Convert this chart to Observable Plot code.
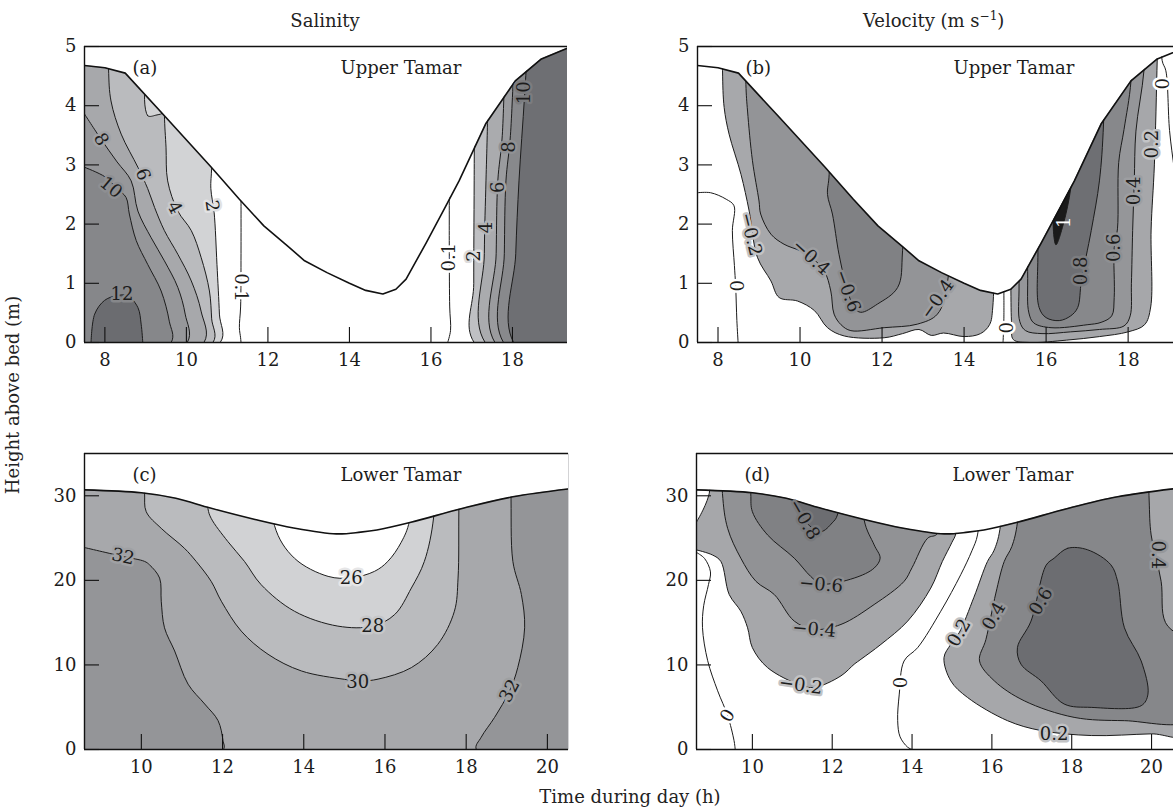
<!DOCTYPE html>
<html><head><meta charset="utf-8">
<script src="https://cdn.jsdelivr.net/npm/d3@7"></script>
<script src="https://cdn.jsdelivr.net/npm/@observablehq/plot@0.6"></script>
<style>
body{margin:0;background:#fff;}
#page{position:relative;width:1173px;height:809px;overflow:hidden;font-family:"DejaVu Serif","Liberation Serif",serif;color:#222;background:#fff;}
.panel{position:absolute;width:600px;}
.t{position:absolute;font-size:18px;line-height:1;white-space:nowrap;}
sup{font-size:12px;line-height:0;}
</style></head><body><div id="page">
<div class="t" style="left:325px;top:12px;transform:translateX(-50%)">Salinity</div>
<div class="t" style="left:863px;top:12px">Velocity (m s<sup>−1</sup>)</div>
<div class="t" style="left:13px;top:395px;transform:translate(-50%,-50%) rotate(-90deg)">Height above bed (m)</div>
<div class="t" style="left:630px;top:788px;transform:translateX(-50%)">Time during day (h)</div>
</div>
<script>
// ---------- axes ----------
const hoursUpper = [7.5, 19.35];
const hoursLowerC = [8.6, 20.52];
const hoursLowerD = [8.6, 20.6];
const depthUpper = [0, 5];
const depthLower = [0, 35];
const ticksUpperX = [8, 10, 12, 14, 16, 18];
const ticksUpperY = [0, 1, 2, 3, 4, 5];
const ticksLowerX = [10, 12, 14, 16, 18, 20];
const ticksLowerY = [0, 10, 20, 30];

// ---------- water surface (time h, height m) ----------
const upperSurface = [[7.5,4.68],[8.0,4.64],[8.5,4.55],[9.5,3.8],[10.6,2.97],[11.3,2.42],[11.9,1.97],[12.5,1.62],[12.9,1.38],[13.45,1.18],[14.0,1.0],[14.4,0.88],[14.82,0.82],[15.14,0.9],[15.39,1.07],[15.88,1.68],[16.36,2.3],[16.69,2.73],[17.34,3.69],[18.07,4.42],[18.71,4.79],[19.35,4.97]];
const lowerSurface = [[8.6,30.7],[10.0,30.35],[10.85,29.7],[11.7,28.55],[12.8,27.2],[13.75,26.2],[14.8,25.5],[15.4,25.7],[15.8,25.95],[16.64,26.86],[17.9,28.5],[19.15,29.88],[20.6,30.85]];

// ---------- (a) salinity, Upper Tamar ----------
const salA_2L = [[10.62,6],[10.62,2.98],[10.6,2.6],[10.68,2.2],[10.75,1.32],[10.81,0.48],[10.83,0]];
const salA_4L = [[9.46,6],[9.46,3.86],[9.5,3.3],[9.54,2.73],[9.79,2.22],[10.12,1.89],[10.36,1.44],[10.565,0.87],[10.62,0.4],[10.65,0]];
const salA_notch = [[9.05,4.4],[9.05,3.83],[9.25,3.84],[9.46,3.9],[9.5,4.4]];
const salA_6L = [[8.09,6],[8.09,4.62],[8.15,4.08],[8.4,3.52],[8.81,2.96],[9.05,2.6],[9.22,2.28],[9.46,1.89],[9.79,1.49],[10.12,1.04],[10.36,0.53],[10.43,0]];
const salA_8L = [[7.5,3.86],[7.91,3.43],[8.3,3.05],[8.645,2.73],[8.81,2.22],[9.135,1.77],[9.46,1.38],[9.79,0.93],[9.97,0.48],[10.02,0]];
const salA_10L = [[7.5,2.96],[8.0,2.8],[8.3,2.6],[8.52,2.45],[8.6,2.17],[8.77,1.72],[9.05,1.32],[9.38,0.87],[9.58,0.36],[9.625,0]];
const salA_12 = [[7.66,0],[7.75,0.48],[7.99,0.71],[8.28,0.79],[8.56,0.79],[8.81,0.59],[8.89,0.31],[8.93,0]];
const salA_2R = [[17.08,6],[17.06,2.73],[17.05,1.0],[17.06,0]];
const salA_4R = [[17.45,6],[17.38,3.5],[17.35,2.73],[17.31,1.5],[17.33,0]];
const salA_6R = [[17.85,6],[17.75,3.5],[17.64,2.73],[17.6,1.5],[17.57,0]];
const salA_8R = [[18.1,6],[17.95,3.5],[17.84,2.73],[17.8,1.5],[17.78,0]];
const salA_10R = [[18.45,6],[18.3,4.2],[18.16,2.73],[18.08,1.5],[18.03,0]];
const salA_01L = [[11.34,2.45],[11.34,1.5],[11.33,0.6],[11.3,0.25],[11.33,0.08],[11.34,0]];
const salA_01R = [[16.45,2.55],[16.45,1.5],[16.46,0.6],[16.48,0.2],[16.41,0]];
const labelsA = [["8",7.91,3.43,60],["10",8.15,2.62,40],["6",8.93,2.84,70],["4",9.71,2.28,62],["2",10.63,2.31,82],["12",8.42,0.82,0],["0.1",11.34,0.93,90],
  ["0.1",16.45,1.44,-90],["2",17.05,1.46,-90],["4",17.36,1.94,-90],["6",17.66,2.62,-90],["8",17.93,3.3,-90],["10",18.3,4.22,-90]];
const haloA = ["#a0a1a4","#8e8f92","#b1b2b5","#c7c8ca","#e2e2e3","#86878a","#ffffff","#ffffff","#dcdcdd","#b3b4b7","#a0a1a4","#909194","#7b7c7f"];

// ---------- (b) velocity, Upper Tamar ----------
const velB_m02 = [[8.11,6],[8.11,4.59],[8.15,3.97],[8.27,3.52],[8.56,2.84],[8.76,2.22],[8.96,1.44],[9.29,1.04],[9.49,0.76],[9.94,0.7],[10.35,0.54],[10.67,0.25],[11.08,0.11],[12.05,0.08],[12.5,0.15],[12.9,0.22],[13.2,0.12],[13.5,0.16],[14.0,0.1],[14.4,0.15],[14.62,0.3],[14.7,0.6],[14.75,6]];
const velB_m04 = [[8.68,6],[8.68,4.36],[8.72,3.91],[8.84,3.07],[9.0,2.39],[9.04,2.17],[9.29,1.83],[9.61,1.66],[10.0,1.55],[10.27,1.44],[10.59,1.21],[10.75,0.87],[10.83,0.48],[11.0,0.3],[11.24,0.2],[12.05,0.25],[12.86,0.31],[13.35,0.48],[13.6,1.04],[13.7,6]];
const velB_m06 = [[10.72,6],[10.71,2.84],[10.67,2.5],[10.79,2.17],[10.95,1.49],[11.16,0.87],[11.32,0.59],[11.48,0.51],[11.89,0.65],[12.38,0.93],[12.5,1.55],[12.52,6]];
const velB_p02 = [[15.14,6],[15.14,1.0],[15.16,0.3],[15.2,0.05],[15.6,0.0],[16.5,0.04],[17.3,0.1],[18.0,0.18],[18.4,0.3],[18.55,0.6],[18.56,1.9],[18.64,3.0],[18.71,4.8],[18.75,6]];
const velB_p04 = [[15.34,6],[15.34,1.0],[15.36,0.35],[15.5,0.2],[15.9,0.15],[16.6,0.18],[17.3,0.22],[17.9,0.28],[18.05,0.45],[18.08,1.0],[18.11,1.89],[18.15,2.73],[18.19,3.57],[18.39,4.62],[18.45,6]];
const velB_p06 = [[15.55,6],[15.55,1.2],[15.58,0.5],[15.7,0.33],[16.12,0.25],[17.0,0.3],[17.34,0.34],[17.6,0.45],[17.66,0.76],[17.66,1.6],[17.74,1.92],[17.77,3.04],[17.9,3.6],[18.07,4.42],[18.12,6]];
const velB_p08 = [[15.8,6],[15.8,1.6],[15.83,0.59],[16.0,0.42],[16.32,0.37],[16.6,0.45],[16.77,0.59],[16.86,1.04],[17.1,1.89],[17.3,2.73],[17.4,3.69],[17.45,6]];
const velB_p10 = [[16.24,1.65],[16.2,2.4],[16.65,3.1],[16.6,2.6],[16.42,2.0]];
const velB_0L = [[7.5,2.53],[7.82,2.53],[8.2,2.42],[8.39,2.31],[8.35,1.89],[8.4,1.3],[8.43,0.96],[8.46,0.37],[8.49,0]];
const velB_0M = [[14.97,0.9],[14.97,0.4],[14.95,0]];
const velB_0R = [[18.8,6],[18.83,4.76],[18.92,4.59],[19.01,3.58],[19.13,2.9],[19.3,2.0]];
const labelsB = [["−0.2",8.8,1.83,76],["−0.4",10.27,1.44,42],["−0.6",11.16,0.87,70],["−0.4",13.35,0.73,-55],["0",8.43,0.96,90],["0",14.98,0.25,90],
  ["0.8",16.85,1.21,-90],["0.6",17.66,1.6,-90],["0.4",18.14,2.56,-90],["0.2",18.58,3.35,-90],["0",18.86,4.37,-90]];
const haloB = ["#c2c3c5","#9d9ea1","#8a8b8e","#9d9ea1","#ffffff","#ffffff","#7c7d80","#8e8f92","#9d9ea1","#c2c3c5","#ffffff"];
const labelsB1 = [["1",16.44,2.03,-90]];

// ---------- (c) salinity, Lower Tamar ----------
const salC_32L = [[8.6,23.88],[9.55,22.82],[10.08,22.24],[10.2,21.84],[10.45,20.27],[10.49,17.53],[10.57,14.39],[10.82,11.65],[11.15,7.73],[11.56,5.38],[11.89,3.41],[12.01,1.06],[12.02,0]];
const salC_32R = [[19.05,36],[19.1,30.5],[19.15,22.24],[19.36,18.32],[19.44,14.39],[19.27,9.68],[19.07,6.94],[18.7,3.8],[18.37,1.45],[18.25,0]];
const salC_30 = [[10.05,36],[10.08,30.39],[10.12,28.12],[10.49,26.15],[11.06,23.8],[11.35,22.24],[11.72,19.88],[11.97,17.53],[12.46,14.0],[13.12,11.26],[13.94,9.29],[15.0,8.3],[15.4,8.1],[15.83,8.32],[16.65,9.68],[17.3,12.43],[17.71,16.35],[17.8,20.27],[17.82,28.4],[17.85,36]];
const salC_28 = [[11.6,36],[11.64,28.5],[11.72,27.33],[12.13,24.59],[12.54,22.24],[12.95,19.49],[13.77,16.35],[14.84,14.59],[15.7,14.59],[16.24,15.96],[16.65,19.09],[16.97,22.24],[17.2,27.5],[17.25,36]];
const salC_26 = [[13.25,36],[13.28,26.47],[13.77,22.62],[14.6,20.47],[15.17,20.3],[15.74,21.06],[16.07,22.24],[16.4,24.5],[16.6,27],[16.65,36]];
const labelsC = [["32",9.55,22.82,12],["26",15.17,20.3,0],["28",15.7,14.59,0],["30",15.33,8.0,0],["32",19.07,6.94,-62]];
const haloC = ["#a0a1a4","#e6e6e7","#c6c7c9","#b0b1b4","#9ea0a2"];

// ---------- (d) velocity, Lower Tamar ----------
const velD_m02 = [[8.6,26.9],[8.92,30.3],[8.95,40],[15.15,40],[15.1,25.6],[15.0,24.5],[14.76,22.24],[14.47,19.09],[13.89,15.18],[13.22,12.43],[12.72,10.67],[12.55,10.08],[12.22,8.71],[11.55,7.33],[11.21,7.6],[10.38,9.68],[10.0,12.04],[9.88,14.39],[9.71,16.35],[9.42,18.32],[9.21,22.24],[9.0,23.0],[8.6,23.6]];
const velD_m04 = [[9.22,40],[9.25,30.27],[9.38,26.15],[9.71,22.62],[10.09,19.88],[10.55,18.32],[11.05,15.18],[11.55,14.2],[12.22,14.79],[13.05,17.14],[13.8,19.88],[14.0,21.5],[14.39,24.98],[14.64,25.56],[14.7,40]];
const velD_m06 = [[9.93,40],[9.96,30.27],[10.0,28.12],[10.38,25.37],[11.05,22.62],[11.46,20.47],[11.72,19.6],[12.55,20.27],[13.05,21.45],[13.2,22.62],[13.05,24.2],[12.8,27.14],[12.78,40]];
const velD_m08 = [[10.95,40],[10.97,30],[11.1,28.6],[11.4,26.6],[11.72,25.76],[12.0,26.8],[12.13,27.73],[12.2,40]];
const velD_p02 = [[16.3,40],[16.2,26],[16.05,23.5],[15.89,22.24],[15.55,18],[15.18,13.8],[14.97,12.43],[14.8,10.86],[14.97,8.12],[15.39,6.15],[16.39,3.41],[17.23,2.24],[18.49,1.65],[19.99,1.85],[21,1.9]];
const velD_p04 = [[16.75,40],[16.64,26.86],[16.5,24],[16.31,22.24],[16.1,18.5],[15.85,13],[15.69,10.47],[16.06,8.12],[16.81,5.76],[18.06,3.8],[19.32,3.41],[21,3.6],[21,12],[20.35,15],[20.24,19.88],[19.99,25.37],[19.94,29.5],[19.9,40]];
const velD_p06 = [[17.56,22.62],[17.9,23.8],[18.4,23.61],[18.98,21.84],[19.15,19.88],[19.32,14.39],[19.74,10.47],[19.91,6.55],[19.74,5.18],[18.49,4.98],[17.81,5.38],[17.23,8.12],[16.73,10.08],[16.64,12.04],[16.98,15.18],[17.36,21.8]];
const velD_0L = [[8.6,23.3],[8.8,22.6],[8.95,21.0],[8.9,19.5],[8.78,17],[8.75,14.4],[8.88,10.5],[9.13,6.94],[9.38,4.0],[9.54,1.06],[9.57,0]];
const velD_0M = [[15.7,32],[15.64,25.37],[15.5,23.5],[15.22,20.67],[14.72,16.35],[14.14,12.04],[13.8,10.47],[13.68,6.55],[13.64,3.41],[13.7,1.5],[13.89,0.27],[14.0,0]];
const labelsD = [["−0.8",11.3,27.2,60],["−0.6",11.72,19.5,5],["−0.4",11.55,14.2,5],["−0.2",11.21,7.6,8],["0",9.38,4.0,-60],["0",13.72,7.92,-90],
  ["0.2",15.18,13.8,-60],["0.4",16.05,15.76,-60],["0.6",17.23,17.53,-60],["0.2",17.56,1.85,0],["0.4",20.15,23.02,90]];
const haloD = ["#78797c","#8b8c8f","#9d9ea1","#c2c3c5","#ffffff","#ffffff","#c2c3c5","#96979a","#7a7b7e","#c2c3c5","#96979a"];

// ---------- drawing ----------
const FONT = '"DejaVu Serif", "Liberation Serif", serif';
const page = document.getElementById("page");
const X = d => d[0], Y = d => d[1];
const fmt = d => String(d);

function panel(cfg) {
  const [x0, x1] = cfg.xDomain, [y0, y1] = cfg.yDomain;
  const m = cfg.margin;
  const padX = (x1 - x0) * 0.1, padY = (y1 - y0) * 0.2;
  const corner = {BL: [x0 - padX, y0 - padY], TL: [x0 - padX, y1 + padY], BR: [x1 + padX, y0 - padY], TR: [x1 + padX, y1 + padY]};
  const innerW = cfg.width - m.left - m.right, innerH = cfg.height - m.top - m.bottom;
  const tickX = 15 * (x1 - x0) / innerW, tickY = 15 * (y1 - y0) / innerH;
  const ink = "#1c1c1c";
  const marks = [];
  if (cfg.background) marks.push(Plot.frame({fill: cfg.background, stroke: "none"}));
  for (const r of cfg.regions) {
    const pts = r.closed ? r.pts : r.pts.concat((r.corners || []).map(c => corner[c]));
    marks.push(Plot.line(pts, {x: X, y: Y, fill: r.fill, stroke: ink, strokeWidth: 1,
      curve: r.closed ? "catmull-rom-closed" : "catmull-rom", clip: true}));
  }
  for (const l of cfg.lines) marks.push(Plot.line(l, {x: X, y: Y, stroke: ink, strokeWidth: 1, curve: "catmull-rom", clip: true}));
  marks.push(Plot.areaY(cfg.surface, {x: X, y1: Y, y2: () => y1 + padY, fill: "white", curve: cfg.surfaceCurve, clip: true}));
  marks.push(Plot.line(cfg.surface, {x: X, y: Y, stroke: "#111", strokeWidth: 1.6, curve: cfg.surfaceCurve, clip: true}));
  marks.push(Plot.text(cfg.labels, {x: d => d[1], y: d => d[2], text: d => d[0], rotate: d => d[3],
    fill: "#1c1c1c", stroke: (d, i) => cfg.halo[i], strokeWidth: 5, strokeLinejoin: "round", paintOrder: "stroke", fontSize: 18, fontFamily: FONT}));
  if (cfg.whiteLabels) marks.push(Plot.text(cfg.whiteLabels, {x: d => d[1], y: d => d[2], text: d => d[0], rotate: d => d[3], fill: "white", fontSize: 18, fontFamily: FONT}));
  marks.push(Plot.ruleY([y0, y1], {stroke: "#111", strokeWidth: 1.4}));
  marks.push(Plot.ruleX([x0], {stroke: "#111", strokeWidth: 1.4}));
  marks.push(Plot.ruleX(cfg.xTicks, {x: d => d, y1: y0, y2: y0 + tickY, stroke: "#111", strokeWidth: 1.1}));
  marks.push(Plot.ruleY(cfg.yTicks, {y: d => d, x1: x0, x2: x0 + tickX, stroke: "#111", strokeWidth: 1.1}));
  marks.push(Plot.axisX(cfg.xTicks, {tickSize: 0, tickPadding: 11, label: null, fontSize: 18, tickFormat: fmt, fontFamily: FONT}));
  marks.push(Plot.axisY(cfg.yTicks, {tickSize: 0, tickPadding: 8, label: null, fontSize: 18, tickFormat: fmt, fontFamily: FONT}));
  marks.push(Plot.text([cfg.tag], {frameAnchor: "top-left", dx: 48, dy: 22, textAnchor: "start", lineAnchor: "middle", text: d => d, fontSize: 18, fill: "#1c1c1c", fontFamily: FONT}));
  marks.push(Plot.text([cfg.place], {frameAnchor: "top-left", dx: 256, dy: 22, textAnchor: "start", lineAnchor: "middle", text: d => d, fontSize: 18, fill: "#1c1c1c", fontFamily: FONT}));
  const svg = Plot.plot({
    width: cfg.width, height: cfg.height,
    marginLeft: m.left, marginRight: m.right, marginTop: m.top, marginBottom: m.bottom,
    x: {domain: cfg.xDomain, axis: null}, y: {domain: cfg.yDomain, axis: null},
    color: {type: "identity"},
    style: {fontFamily: FONT, fontSize: "18px", color: "#1c1c1c", background: "transparent", maxWidth: "none", overflow: "visible"},
    marks
  });
  const div = document.createElement("div");
  div.className = "panel";
  div.style.left = cfg.left + "px";
  div.style.top = cfg.top + "px";
  div.appendChild(svg);
  page.appendChild(div);
}

panel({
  left: 0, top: 0, width: 600, height: 380, margin: {left: 84, right: 33, top: 46, bottom: 38},
  xDomain: hoursUpper, yDomain: depthUpper, xTicks: ticksUpperX, yTicks: ticksUpperY,
  surface: upperSurface, surfaceCurve: "linear",
  regions: [
    {pts: salA_2L, corners: ["BL", "TL"], fill: "#d2d3d5"},
    {pts: salA_4L, corners: ["BL", "TL"], fill: "#babbbe"},
    {pts: salA_notch, closed: true, fill: "#d2d3d5"},
    {pts: salA_6L, corners: ["BL", "TL"], fill: "#a7a8ab"},
    {pts: salA_8L, corners: ["BL", "TL"], fill: "#96979a"},
    {pts: salA_10L, corners: ["BL", "TL"], fill: "#86878a"},
    {pts: salA_12, corners: [], fill: "#6b6c70"},
    {pts: salA_2R, corners: ["BR", "TR"], fill: "#bfc0c3"},
    {pts: salA_4R, corners: ["BR", "TR"], fill: "#aaabae"},
    {pts: salA_6R, corners: ["BR", "TR"], fill: "#9a9b9e"},
    {pts: salA_8R, corners: ["BR", "TR"], fill: "#88898c"},
    {pts: salA_10R, corners: ["BR", "TR"], fill: "#6e6f73"}
  ],
  lines: [salA_01L, salA_01R],
  labels: labelsA, halo: haloA, tag: "(a)", place: "Upper Tamar"
});

panel({
  left: 613, top: 0, width: 600, height: 380, margin: {left: 84, right: 30, top: 46, bottom: 38},
  xDomain: hoursUpper, yDomain: depthUpper, xTicks: ticksUpperX, yTicks: ticksUpperY,
  surface: upperSurface, surfaceCurve: "linear",
  regions: [
    {pts: velB_m02, corners: [], fill: "#a7a8ab"},
    {pts: velB_m04, corners: [], fill: "#939497"},
    {pts: velB_m06, corners: [], fill: "#808184"},
    {pts: velB_p02, corners: [], fill: "#a6a7aa"},
    {pts: velB_p04, corners: [], fill: "#959699"},
    {pts: velB_p06, corners: [], fill: "#87888b"},
    {pts: velB_p08, corners: [], fill: "#6e6f73"},
    {pts: velB_p10, closed: true, fill: "#1a1a1a"}
  ],
  lines: [velB_0L, velB_0M, velB_0R],
  labels: labelsB, halo: haloB, whiteLabels: labelsB1, tag: "(b)", place: "Upper Tamar"
});

panel({
  left: 0, top: 400, width: 600, height: 390, margin: {left: 84, right: 32, top: 53, bottom: 41},
  xDomain: hoursLowerC, yDomain: depthLower, xTicks: ticksLowerX, yTicks: ticksLowerY,
  surface: lowerSurface, surfaceCurve: "catmull-rom", background: "#a7a8ab",
  regions: [
    {pts: salC_32L, corners: ["BL"], fill: "#949598"},
    {pts: salC_32R, corners: ["BR", "TR"], fill: "#949598"},
    {pts: salC_30, corners: [], fill: "#babbbe"},
    {pts: salC_28, corners: [], fill: "#d1d2d4"},
    {pts: salC_26, corners: [], fill: "#ffffff"}
  ],
  lines: [],
  labels: labelsC, halo: haloC, tag: "(c)", place: "Lower Tamar"
});

panel({
  left: 612, top: 400, width: 600, height: 390, margin: {left: 84, right: 37, top: 53, bottom: 41},
  xDomain: hoursLowerD, yDomain: depthLower, xTicks: ticksLowerX, yTicks: ticksLowerY,
  surface: lowerSurface, surfaceCurve: "catmull-rom",
  regions: [
    {pts: velD_m02, corners: [], fill: "#a6a7aa"},
    {pts: velD_m04, corners: [], fill: "#919295"},
    {pts: velD_m06, corners: [], fill: "#808184"},
    {pts: velD_m08, corners: [], fill: "#6c6d71"},
    {pts: velD_p02, corners: ["TR"], fill: "#a6a7aa"},
    {pts: velD_p04, corners: [], fill: "#86878a"},
    {pts: velD_p06, closed: true, fill: "#6c6d71"}
  ],
  lines: [velD_0L, velD_0M],
  labels: labelsD, halo: haloD, tag: "(d)", place: "Lower Tamar"
});
</script>
</body></html>
